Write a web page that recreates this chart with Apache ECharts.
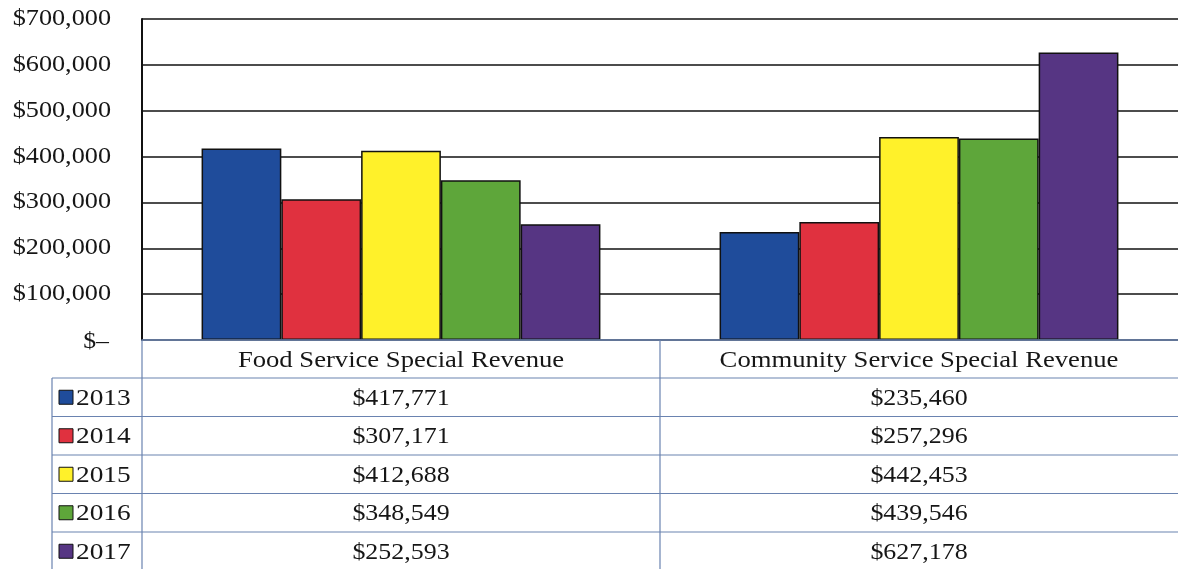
<!DOCTYPE html>
<html>
<head>
<meta charset="utf-8">
<script src="https://cdn.jsdelivr.net/npm/echarts@6/dist/echarts.min.js"></script>
<style>
  html, body { margin: 0; padding: 0; background: #fff; }
  #main { width: 1178px; height: 569px; }
</style>
</head>
<body>
<div id="main"></div>
<script>
// chart data
var categories = ["Food Service Special Revenue", "Community Service Special Revenue"];
var years = ["2013", "2014", "2015", "2016", "2017"];
var v2013 = [417771, 235460];
var v2014 = [307171, 257296];
var v2015 = [412688, 442453];
var v2016 = [348549, 439546];
var v2017 = [252593, 627178];
var yTicks = [0, 100000, 200000, 300000, 400000, 500000, 600000, 700000];
var colors = ["#1f4c9b", "#e0313f", "#fff12a", "#5ea63a", "#563583"];

var seriesValues = [v2013, v2014, v2015, v2016, v2017];
var FONT = "'Liberation Serif', 'Times New Roman', serif";
var LINE = "#6a83b0";
var INK = "#161616";

// layout of the plot and the data table under it
var plotLeft = 142, plotTop = 19, plotW = 1042, plotH = 321;
var tableLeft = 52, rowTop = 378, rowH = 38.5;

function money(v) {
    if (v === 0) return "$\u2013";
    return "$" + v.toLocaleString("en-US");
}

var myChart = echarts.init(document.getElementById('main'), null, { renderer: 'canvas' });

var option = {
    animation: false,
    grid: { left: plotLeft, top: plotTop, width: plotW, height: plotH, containLabel: false },
    xAxis: {
        type: 'category',
        data: categories,
        z: 3,
        axisLine: { show: true, lineStyle: { color: LINE, width: 1.5 } },
        axisTick: { show: false },
        axisLabel: { show: false }
    },
    yAxis: {
        type: 'value',
        min: yTicks[0],
        max: yTicks[yTicks.length - 1],
        interval: yTicks[1] - yTicks[0],
        axisLine: { show: true, lineStyle: { color: "#111", width: 2 } },
        axisTick: { show: false },
        splitLine: { lineStyle: { color: "#111", width: 1.5 } },
        axisLabel: { show: false }
    },
    series: years.map(function (y, i) {
        return {
            name: y,
            type: 'bar',
            data: seriesValues[i],
            barGap: 0,
            barCategoryGap: '23%',
            itemStyle: { color: colors[i], borderColor: "#111", borderWidth: 1.5 }
        };
    })
};

myChart.setOption(option);

// labels and data table, placed with the chart's own scales
var centers = categories.map(function (c) {
    return myChart.convertToPixel({ xAxisIndex: 0 }, c);
});
var midX = (centers[0] + centers[1]) / 2;
var rightX = 1178;
var tableBottom = rowTop + rowH * years.length;
var graphics = [];

function txt(s, x, y, size, align, sx) {
    graphics.push({
        type: 'text', z: 11, x: x, y: y, scaleX: sx,
        style: { text: s, font: size + "px " + FONT, fill: INK, align: align, verticalAlign: 'middle' }
    });
}
function hline(x1, x2, y) {
    graphics.push({ type: 'line', z: 10, shape: { x1: x1, y1: y, x2: x2, y2: y }, style: { stroke: LINE, lineWidth: 1.2 } });
}
function vline(x, y1, y2) {
    graphics.push({ type: 'line', z: 10, shape: { x1: x, y1: y1, x2: x, y2: y2 }, style: { stroke: LINE, lineWidth: 1.2 } });
}

// y tick labels
yTicks.forEach(function (t) {
    var py = myChart.convertToPixel({ yAxisIndex: 0 }, t);
    if (t === 0) {
        txt(money(t), 109, py + 2, 23, 'right', 1.12);
    } else {
        txt(money(t), 111, py, 23, 'right', 1.14);
    }
});

// category header row
categories.forEach(function (c, j) {
    txt(c, centers[j], 361, 24, 'center', 1.11);
});

for (var r = 0; r <= years.length; r++) {
    hline(tableLeft, rightX, rowTop + r * rowH);
}
vline(tableLeft, rowTop, tableBottom);
vline(plotLeft, plotTop + plotH, tableBottom);
vline(midX, plotTop + plotH, tableBottom);

years.forEach(function (y, i) {
    var cy = rowTop + rowH * i + rowH / 2;
    graphics.push({
        type: 'rect', z: 11,
        shape: { x: 59, y: cy - 7, width: 14, height: 14 },
        style: { fill: colors[i], stroke: "#111", lineWidth: 1 }
    });
    txt(y, 76, cy + 1, 24, 'left', 1.14);
    seriesValues[i].forEach(function (v, j) {
        txt(money(v), centers[j], cy + 1, 24, 'center', 1.08);
    });
});

myChart.setOption({ graphic: graphics });
window.myChart = myChart;
</script>
</body>
</html>
